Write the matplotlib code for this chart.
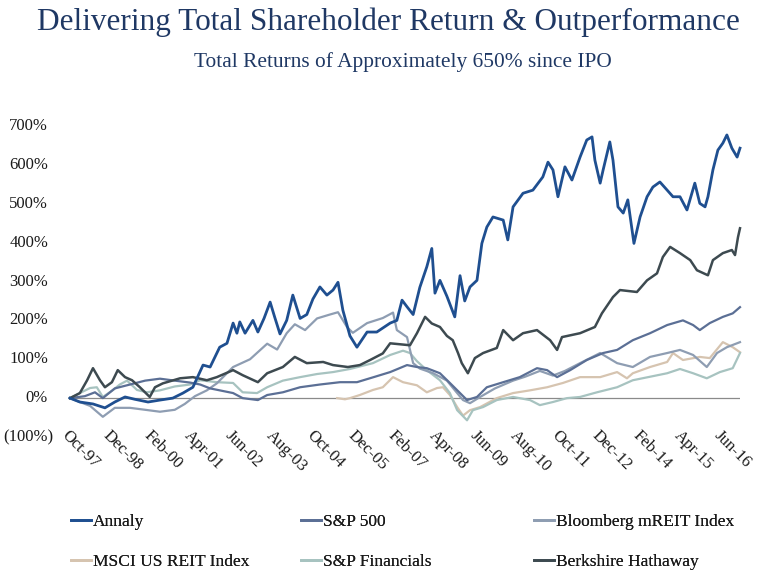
import matplotlib
matplotlib.use("Agg")
import matplotlib.pyplot as plt
from matplotlib.lines import Line2D
import matplotlib.transforms as mtransforms
import pandas as pd

# ---------------- data (months since Oct-1997, total return %) ----------------
annaly_m = [0, 3.4, 7.9, 12.0, 15.4, 18.9, 22.3, 26.8, 30.9, 35.3, 38.8, 42.2, 45.7, 48.1, 51.4, 53.9,
            56.0, 57.3, 58.3, 60.1, 62.8, 64.5, 66.6, 68.7, 70.3, 72.1, 74.4, 76.5, 79.0, 81.3, 83.4,
            85.8, 88.2, 90.3, 92.0, 93.7, 96.1, 98.5, 102.0, 105.3, 109.9, 112.2, 114.0, 115.7, 117.8,
            120.1, 122.5, 124.2, 125.3, 127.0, 129.4, 132.1, 133.9, 135.5, 137.3, 139.7, 141.4, 143.1,
            145.2, 148.7, 150.3, 152.1, 155.5, 158.9, 162.3, 164.1, 165.8, 167.5, 169.9, 172.3, 175.1,
            177.4, 179.2, 180.2, 182.0, 183.0, 185.3, 186.4, 188.1, 189.9, 191.5, 193.6, 195.7, 198.1,
            200.1, 202.5, 205.0, 207.0, 209.4, 211.8, 214.5, 216.2, 218.0, 219.0, 220.7, 222.4, 224.1,
            225.5, 227.2, 229.0, 230.0]
annaly_v = [0, -10, -15, -25, -10, 3, -3, -10, -5, 0, 13, 28, 85, 80, 131, 141,
            193, 167, 196, 167, 200, 170, 205, 247, 208, 165, 200, 265, 205, 215, 255,
            286, 265, 278, 298, 226, 160, 131, 170, 170, 193, 200, 252, 235, 215,
            285, 338, 385, 270, 303, 262, 209, 315, 250, 286, 303, 398, 440,
            466, 458, 407, 492, 527, 535, 569, 607, 587, 518, 595, 561, 620,
            664, 672, 612, 553, 587, 659, 612, 492, 476, 510, 398, 466, 518,
            543, 556, 535, 518, 518, 484, 553, 501, 492, 518, 587, 638, 656,
            677, 643, 620, 643]

sp500_m = [0, 5.1, 8.6, 11.3, 15.4, 20.6, 25.8, 30.9, 36.0, 41.2, 44.7, 48.1, 51.4, 56.0, 59.3, 64.5,
           67.7, 73.1, 79.0, 85.8, 92.7, 98.5, 104.7, 109.9, 115.7, 119.1, 122.5, 127.0, 130.4, 133.9,
           136.3, 139.7, 143.1, 148.7, 154.4, 160.3, 163.8, 167.2, 171.7, 177.4, 183.0, 187.8, 193.2,
           199.1, 205.0, 210.4, 213.9, 216.2, 219.6, 224.1, 227.5, 230.0]
sp500_v = [0, 5, 15, 0, 25, 35, 45, 50, 45, 40, 35, 25, 20, 13, 0, -5,
           8, 15, 28, 35, 41, 41, 55, 67, 85, 80, 77, 64, 39, 13,
           -5, 3, 28, 41, 54, 77, 72, 54, 72, 98, 116, 124, 149,
           167, 188, 200, 188, 175, 193, 209, 218, 234]

mreit_m = [0, 3.4, 6.9, 11.3, 15.4, 20.6, 25.8, 30.9, 36.0, 39.4, 42.9, 47.0, 50.4, 56.0, 61.8, 67.7,
           71.1, 74.4, 77.2, 80.7, 84.8, 89.2, 92.0, 95.1, 97.1, 102.0, 107.4, 110.9, 112.2, 115.7,
           117.8, 120.1, 124.7, 129.4, 132.9, 134.9, 137.3, 140.8, 145.9, 152.1, 156.2, 161.3, 165.8,
           169.9, 175.1, 182.0, 187.8, 193.2, 199.1, 205.0, 209.4, 213.9, 218.6, 222.1, 225.5, 230.0]
mreit_v = [0, -10, -20, -48, -25, -25, -30, -35, -30, -15, 5, 20, 38, 80, 100, 140,
           125, 167, 190, 175, 205, 215, 221, 183, 168, 193, 206, 220, 175, 157,
           90, 76, 64, 45, 13, -5, -13, 3, 25, 45, 55, 70, 58,
           70, 90, 116, 90, 80, 106, 116, 124, 111, 80, 116, 131, 144]

msci_m = [91.7, 94.4, 96.1, 99.5, 104.0, 107.4, 110.9, 114.3, 119.1, 122.5, 126.0, 128.0, 130.4, 132.9,
          134.9, 137.3, 140.8, 146.5, 152.1, 157.9, 163.8, 169.2, 175.1, 182.0, 187.8, 191.2, 193.2,
          199.1, 205.0, 207.0, 210.4, 216.2, 219.6, 224.1, 227.5, 230.0]
msci_v = [0, -3, 0, 8, 21, 28, 54, 41, 33, 15, 26, 28, 8, -23,
          -45, -31, -23, 0, 13, 20, 28, 39, 54, 54, 67, 51, 64,
          80, 93, 116, 98, 106, 103, 144, 131, 118]

spfin_m = [0, 3.4, 6.9, 9.2, 11.3, 14.8, 17.1, 19.6, 23.0, 26.4, 30.9, 36.0, 41.2, 44.7, 50.4, 56.0,
           59.3, 64.2, 67.7, 73.1, 79.0, 84.8, 90.3, 96.1, 104.0, 109.9, 114.3, 116.7, 119.1, 122.5,
           127.0, 130.4, 132.9, 136.3, 138.3, 141.8, 146.5, 152.1, 157.9, 161.3, 165.8, 170.6, 175.1,
           180.9, 187.8, 193.2, 199.1, 205.0, 209.4, 213.9, 218.6, 223.1, 227.5, 230.0]
spfin_v = [0, 13, 26, 28, 3, 21, 35, 45, 21, 15, 20, 30, 35, 46, 41, 39,
           15, 13, 28, 45, 54, 62, 67, 75, 90, 111, 122, 116, 95, 72,
           46, 13, -31, -57, -31, -23, -5, 3, -5, -18, -10, 0, 3,
           15, 28, 46, 55, 64, 75, 64, 51, 67, 77, 116]

brk_m = [0, 3.4, 5.9, 7.9, 10.3, 12.0, 14.4, 16.4, 18.9, 21.3, 24.0, 27.4, 29.2, 31.9, 37.8, 42.2,
         47.0, 50.4, 56.0, 59.3, 64.5, 67.7, 73.1, 77.2, 81.3, 86.9, 90.3, 95.4, 99.5, 103.0, 107.4,
         109.9, 116.7, 119.1, 121.9, 124.2, 127.0, 129.4, 131.4, 133.2, 134.5, 136.6, 139.0, 141.8,
         146.5, 148.7, 152.1, 155.5, 160.3, 164.8, 167.2, 168.9, 175.1, 180.2, 182.6, 186.4, 188.8,
         194.6, 198.1, 201.5, 203.5, 206.0, 209.4, 212.9, 215.2, 219.0, 220.7, 224.1, 227.2, 228.3,
         229.3, 230.0]
brk_v = [0, 13, 46, 77, 46, 28, 41, 72, 54, 46, 28, 3, 28, 38, 51, 54,
         46, 54, 72, 59, 41, 64, 80, 106, 90, 93, 85, 80, 85, 98, 115,
         141, 136, 167, 209, 192, 183, 160, 149, 116, 90, 64, 103, 116,
         129, 175, 149, 167, 175, 149, 124, 157, 167, 183, 218, 260, 278,
         273, 303, 321, 363, 389, 373, 355, 329, 316, 355, 373, 381, 368,
         414, 437]

series_names = ["Annaly", "S&P 500", "Bloomberg mREIT Index",
                "MSCI US REIT Index", "S&P Financials", "Berkshire Hathaway"]
tick_labels = ["Oct-97", "Dec-98", "Feb-00", "Apr-01", "Jun-02", "Aug-03", "Oct-04", "Dec-05",
               "Feb-07", "Apr-08", "Jun-09", "Aug-10", "Oct-11", "Dec-12", "Feb-14", "Apr-15", "Jun-16"]
y_ticks = [-100, 0, 100, 200, 300, 400, 500, 600, 700]
y_tick_labels = ["(100%)", "0%", "100%", "200%", "300%", "400%", "500%", "600%", "700%"]

colors = {
    "Annaly": "#1f4f90",
    "S&P 500": "#5b6f95",
    "Bloomberg mREIT Index": "#8e9db2",
    "MSCI US REIT Index": "#d6c4b0",
    "S&P Financials": "#a7c3c0",
    "Berkshire Hathaway": "#3d4a50",
}

START = pd.Timestamp("1997-10-01")
END_MONTHS = 230


def to_dates(months):
    return [START + pd.DateOffset(days=float(m) * 30.4375) for m in months]


# ---------------- figure ----------------
plt.rcParams["font.family"] = ["Liberation Serif", "DejaVu Serif"]
fig = plt.figure(figsize=(7.67, 5.76), dpi=100)
W, H = 767, 576
ax = fig.add_axes([70 / W, (H - 437) / H, 670 / W, 311 / H])

data = {
    "MSCI US REIT Index": (msci_m, msci_v),
    "S&P Financials": (spfin_m, spfin_v),
    "Bloomberg mREIT Index": (mreit_m, mreit_v),
    "S&P 500": (sp500_m, sp500_v),
    "Berkshire Hathaway": (brk_m, brk_v),
    "Annaly": (annaly_m, annaly_v),
}
widths = {"Annaly": 2.0, "Berkshire Hathaway": 1.8}

ax.axhline(0, color="#8a8a8a", lw=0.9, zorder=1)
for name, (m, v) in data.items():
    ax.plot(to_dates(m), v, color=colors[name], lw=widths.get(name, 1.6), zorder=2,
            solid_joinstyle="round", clip_on=False)

ax.set_xlim(START, START + pd.DateOffset(days=END_MONTHS * 30.4375))
ax.set_ylim(-100, 700)
for s in ax.spines.values():
    s.set_visible(False)

tick_pos = [START + pd.DateOffset(months=14 * i) for i in range(len(tick_labels))]
ax.set_xticks(tick_pos)
ax.set_xticklabels(tick_labels, rotation=-45, ha="left", rotation_mode="anchor",
                   fontsize=12, color="#1a1a1a")
ax.tick_params(axis="x", length=0, pad=-7)
for lab in ax.get_xticklabels():
    lab.set_x(lab.get_position()[0])

# y labels (Excel style: positives padded for the closing parenthesis)
ax.set_yticks([])
ytrans = mtransforms.blended_transform_factory(fig.transFigure, ax.transData)
for val, lab in zip(y_ticks, y_tick_labels):
    xr = 53 if lab.startswith("(") else 48
    ax.text(xr / W, val, lab, transform=ytrans, ha="right", va="center",
            fontsize=12, color="#1a1a1a")

# titles
fig.text(388 / W, 1 - 22 / H, "Delivering Total Shareholder Return & Outperformance",
         ha="center", va="center", fontsize=22.5, color="#1f3864")
fig.text(403 / W, 1 - 62 / H, "Total Returns of Approximately 650% since IPO",
         ha="center", va="center", fontsize=15.4, color="#1f3864")

# legend: three columns of two
cols = [("Annaly", "MSCI US REIT Index"), ("S&P 500", "S&P Financials"),
        ("Bloomberg mREIT Index", "Berkshire Hathaway")]
col_x = [71, 301, 534]
for names, x0 in zip(cols, col_x):
    handles = [Line2D([0], [0], color=colors[n], lw=2) for n in names]
    leg = fig.legend(handles, names, loc="upper left", bbox_to_anchor=(x0 / W, 1 - 514 / H),
                     frameon=False, fontsize=12.5, handlelength=1.15, handletextpad=0.1,
                     labelspacing=1.35, borderaxespad=0, borderpad=0)
    for t in leg.get_texts():
        t.set_color("#1a1a1a")
    fig.add_artist(leg)

fig.savefig("out.png", dpi=100)
